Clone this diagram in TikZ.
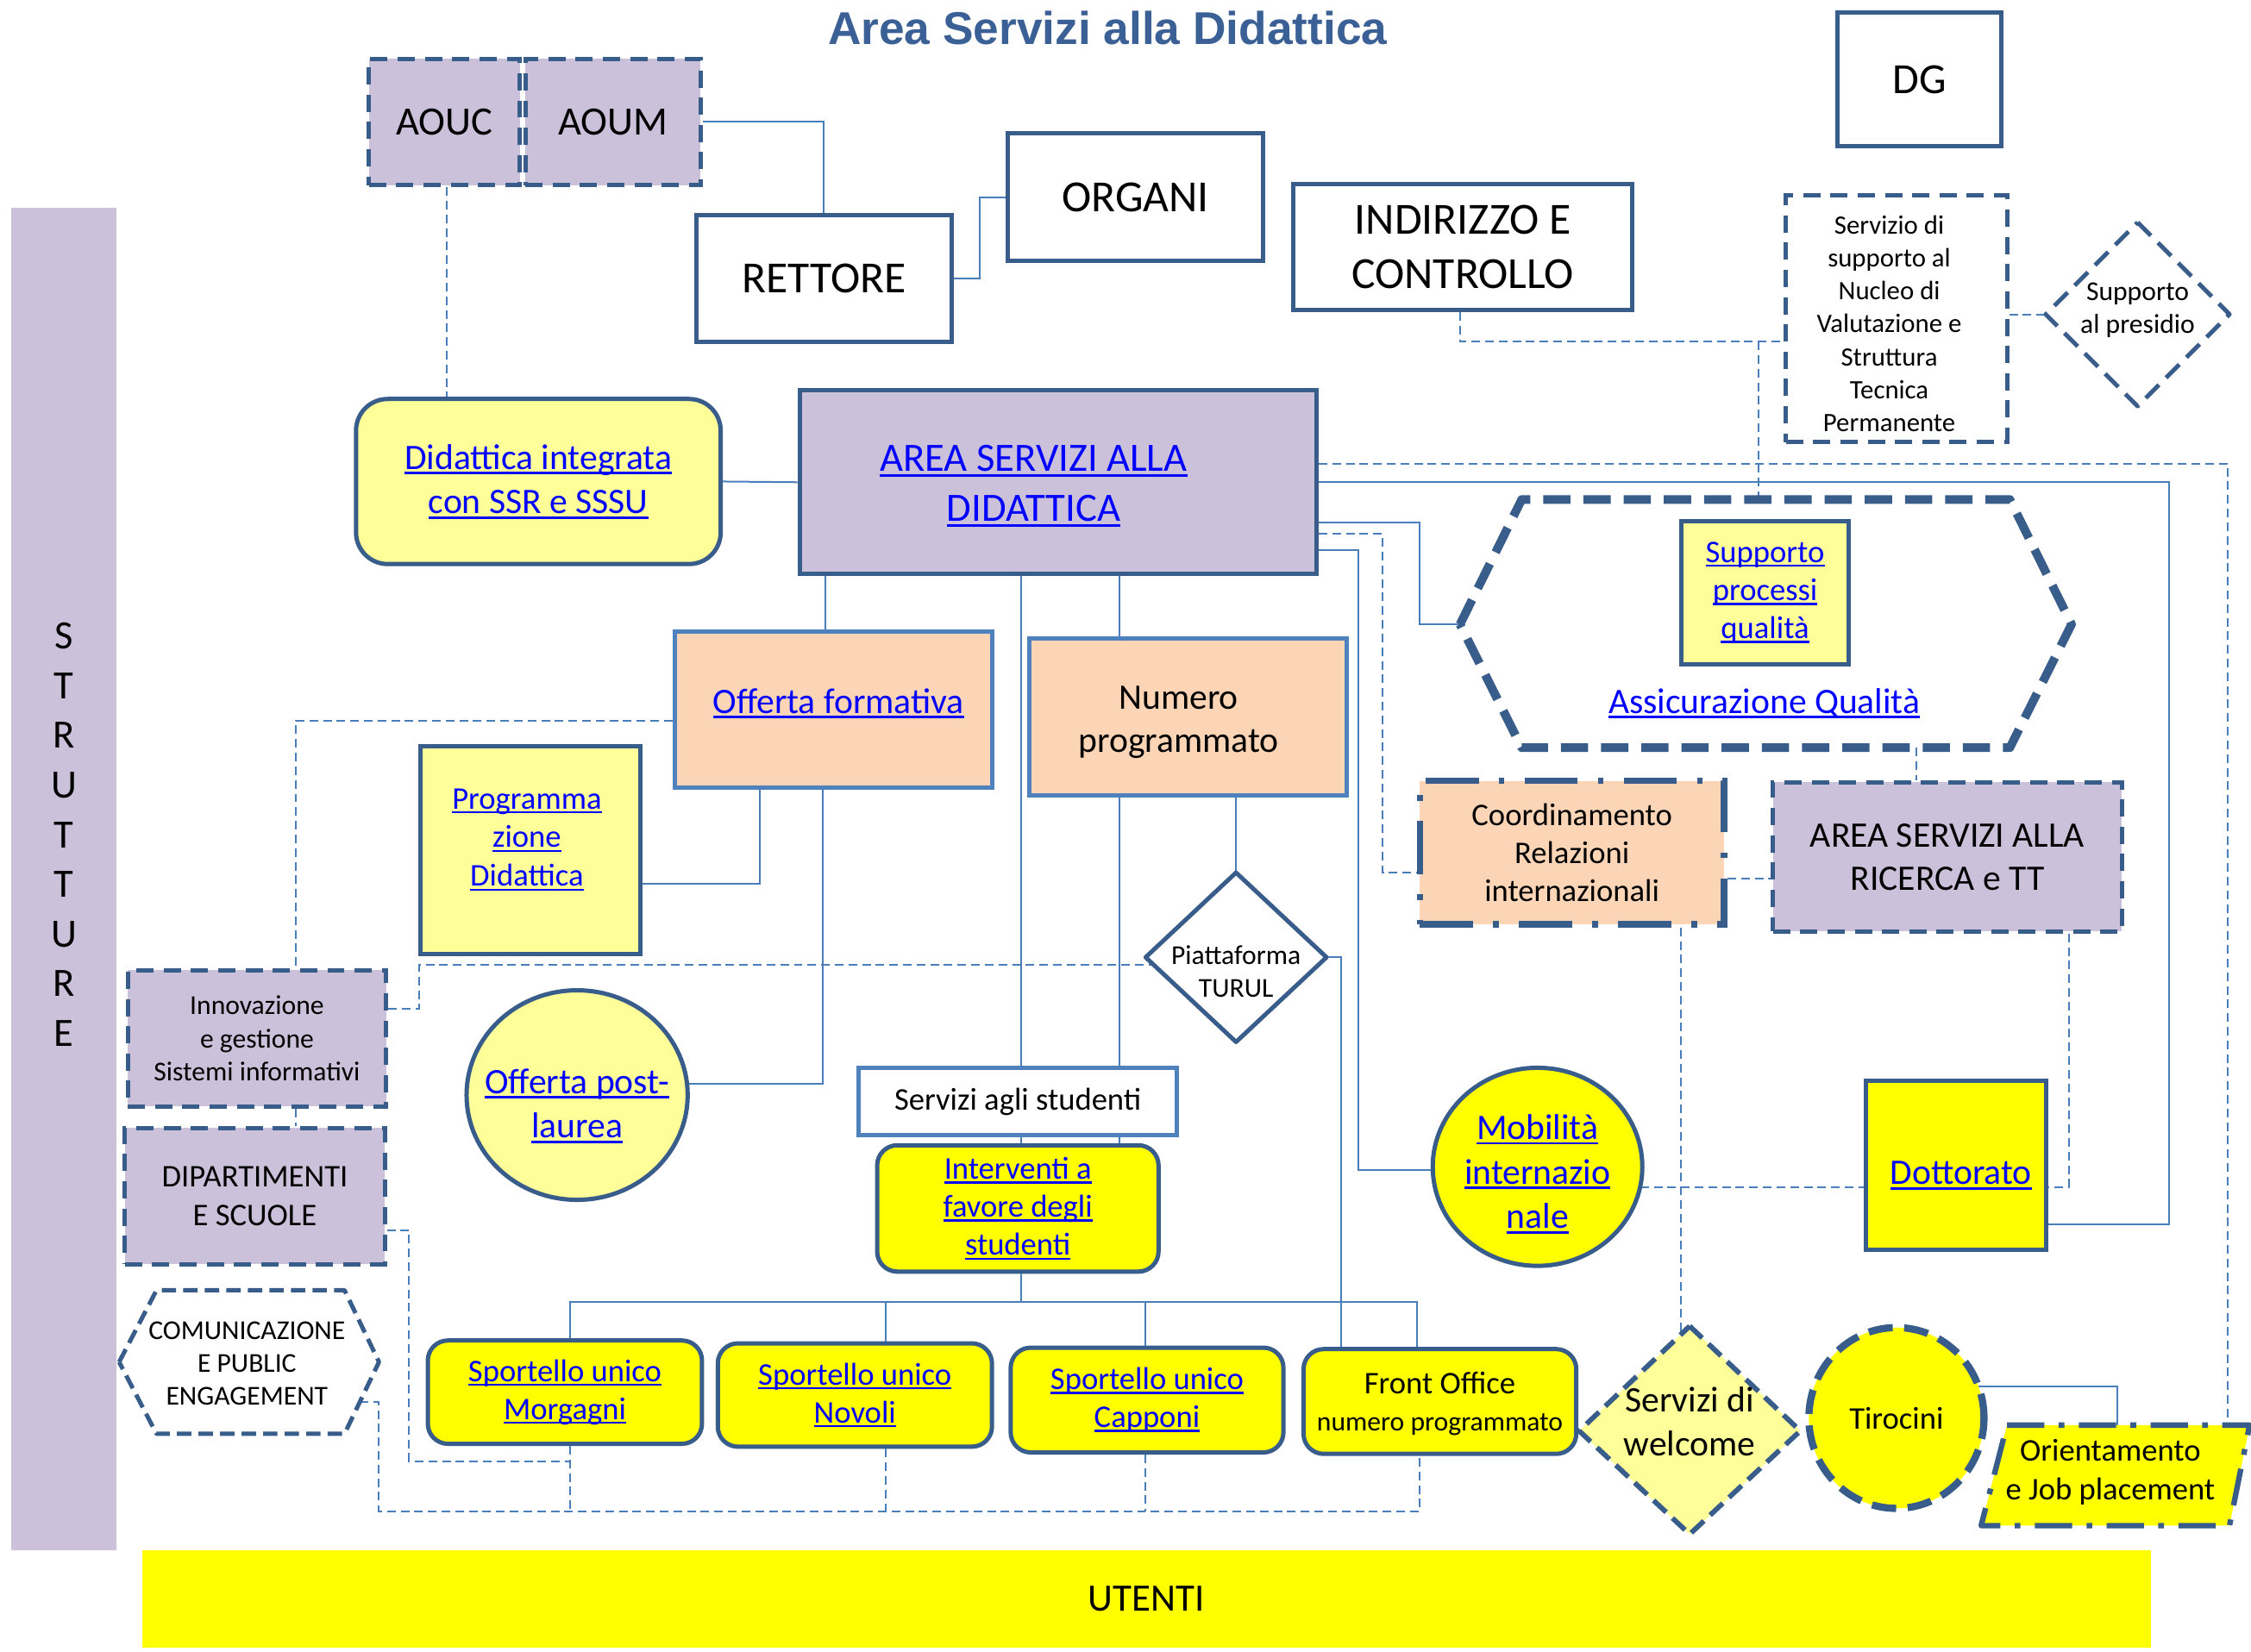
\documentclass[tikz,border=0pt]{standalone}
\usepackage{fontspec}
\setmainfont{Carlito}
\newfontfamily\titlefont{Liberation Sans}
\definecolor{bdark}{HTML}{385D8A}
\definecolor{blight}{HTML}{4F81BD}
\definecolor{conn}{HTML}{4A7EBB}
\definecolor{lav}{HTML}{CCC1DA}
\definecolor{peach}{HTML}{FBD5B5}
\definecolor{lyel}{HTML}{FFFF99}
\definecolor{yel}{HTML}{FFFF00}
\definecolor{lnkblue}{HTML}{0000FF}
\definecolor{titleblue}{HTML}{3A6096}
\newsavebox\lkbox
\newcommand\lk[1]{\sbox\lkbox{#1}\leavevmode\rlap{\rule[-0.14em]{\wd\lkbox}{0.065em}}\usebox\lkbox}
\newcommand\fs[2]{\fontsize{#1}{#2}\selectfont}
\begin{document}
\begin{tikzpicture}[x=1pt,y=-1pt,
  box/.style={draw=bdark, line width=3pt, inner sep=0pt, align=center, anchor=center},
  dbox/.style={dash pattern=on 12pt off 7pt},
  lt/.style={text=lnkblue, align=center, inner sep=0pt},
  tt/.style={align=center, inner sep=0pt},
  ln/.style={draw=conn, line width=1.2pt},
  dln/.style={draw=conn, line width=1.2pt, dash pattern=on 6pt off 3.5pt},
  shp/.style={draw=bdark, line width=3pt, line join=round}
]
\useasboundingbox (0,0) rectangle (1568,1150.5);

% ---------- coordinates on non-rectangular shapes
\coordinate (aqL) at (1017,435);
\coordinate (aqT) at (1225,348);
\coordinate (aqB) at (1335,521);
\coordinate (turN) at (861,608);
\coordinate (turE) at (924,667);
\coordinate (turW2) at (803.3,672);
\coordinate (presW) at (1425,219);
\coordinate (postE) at (478.5,755);
\coordinate (mobW) at (998,815);
\coordinate (mobE) at (1142.5,827);
\coordinate (tiroE) at (1378,966);
\coordinate (orientT1) at (1475,993);
\coordinate (orientT2) at (1552,993);
\coordinate (welT2) at (1171,929.7);
\coordinate (commE) at (250.6,977);

% ---------- rectangular nodes
\node[fill=lav, inner sep=0pt, minimum width=73pt, minimum height=935pt] (strut) at (44.5,612.5) {};
\node[tt, font={\fs{28}{34.6}}] (strutT) at (44.5,581.5) {S\\T\\R\\U\\T\\T\\U\\R\\E};
\node[fill=yel, inner sep=0pt, minimum width=1399pt, minimum height=68pt, font={\fs{27}{32}}] (utenti) at (798.5,1114) {UTENTI};

\node[font={\titlefont\bfseries\fs{32}{38}}, text=titleblue, anchor=base, inner sep=0pt] (title) at (771.5,31) {Area Servizi alla Didattica};

\node[box, fill=lav, dbox, minimum width=105pt, minimum height=88pt, font={\fs{28}{34}}] (aouc) at (309.5,85) {AOUC};
\node[box, fill=lav, dbox, minimum width=122pt, minimum height=88pt, font={\fs{28}{34}}] (aoum) at (427,85) {AOUM};
\node[box, fill=white, minimum width=178pt, minimum height=88pt, font={\fs{31}{38}}] (rett) at (574,194) {RETTORE};
\node[box, fill=white, minimum width=178pt, minimum height=89pt, font={\fs{31}{38}}] (org) at (791,137.5) {ORGANI};
\node[box, fill=white, minimum width=236pt, minimum height=88pt, font={\fs{31}{38}}] (ind) at (1019,172) {INDIRIZZO E\\CONTROLLO};
\node[box, fill=white, minimum width=114pt, minimum height=93pt, font={\fs{30}{36}}] (dg) at (1337,55.5) {DG};
\node[box, fill=white, dbox, minimum width=154pt, minimum height=172pt] (nuc) at (1321,222) {};
\node[tt, font={\fs{18.5}{23}}] (nucT) at (1316,225.5) {Servizio di\\supporto al\\Nucleo di\\Valutazione e\\Struttura\\Tecnica\\Permanente};

\node[box, fill=lyel, rounded corners=22pt, minimum width=254pt, minimum height=115pt, font={\fs{25}{31}}, text=lnkblue] (did) at (375,335.5) {\lk{Didattica integrata}\\\lk{con SSR e SSSU}};
\node[box, fill=lav, minimum width=360pt, minimum height=128pt] (area) at (737,336) {};
\node[box, draw=blight, fill=peach, minimum width=221pt, minimum height=109pt] (off) at (580.5,494.5) {};
\node[lt, font={\fs{25}{31}}] (offT) at (584,490) {\lk{Offerta formativa}};
\node[box, draw=blight, fill=peach, minimum width=221pt, minimum height=109pt] (num) at (827.5,499.5) {};
\node[tt, font={\fs{25}{30}}] (numT) at (821,503) {Numero\\programmato};
\node[box, fill=lyel, minimum width=153pt, minimum height=145pt] (prog) at (369.5,592.5) {};
\node[box, fill=peach, minimum width=212pt, minimum height=100pt, dash pattern=on 37pt off 14pt on 4pt off 14pt, line width=4.5pt, font={\fs{22}{26.5}}] (coord) at (1095,594) {Coordinamento\\Relazioni\\internazionali};
\node[box, fill=lav, dbox, minimum width=243pt, minimum height=104pt, font={\fs{25}{30}}] (ric) at (1356.5,597) {AREA SERVIZI ALLA\\RICERCA e TT};
\node[box, fill=lav, dbox, minimum width=180pt, minimum height=95pt, font={\fs{19}{23}}] (innov) at (179,723.5) {Innovazione\\e gestione\\Sistemi informativi};
\node[box, fill=lav, dbox, minimum width=181pt, minimum height=95pt, font={\fs{22}{27}}] (dip) at (177.5,833.5) {DIPARTIMENTI\\E SCUOLE};
\node[box, draw=blight, fill=white, minimum width=222pt, minimum height=47pt, font={\fs{22}{26}}] (sstud) at (709,767.5) {Servizi agli studenti};
\node[box, fill=yel, rounded corners=14pt, minimum width=196pt, minimum height=88pt, font={\fs{22}{26.5}}, text=lnkblue] (interv) at (709,842) {\lk{Interventi a}\\\lk{favore degli}\\\lk{studenti}};
\node[box, fill=yel, minimum width=125pt, minimum height=118pt] (dott) at (1362.5,812) {};
\node[lt, font={\fs{25}{30}}] (dottT) at (1366,819) {\lk{Dottorato}};
\node[box, fill=yel, rounded corners=14pt, minimum width=191pt, minimum height=72pt, font={\fs{22}{26.5}}, text=lnkblue] (morg) at (393.5,970) {\lk{Sportello unico}\\\lk{Morgagni}};
\node[box, fill=yel, rounded corners=14pt, minimum width=191pt, minimum height=72pt, font={\fs{22}{26.5}}, text=lnkblue] (novo) at (595.5,972) {\lk{Sportello unico}\\\lk{Novoli}};
\node[box, fill=yel, rounded corners=14pt, minimum width=190pt, minimum height=73pt, font={\fs{22}{26.5}}, text=lnkblue] (capp) at (799,975.5) {\lk{Sportello unico}\\\lk{Capponi}};
\node[box, fill=yel, rounded corners=14pt, minimum width=190pt, minimum height=73pt] (front) at (1003,976.5) {};

% ---------- solid connectors
\draw[ln] (aoum.east) -| (rett.north);
\draw[ln] (rett.east) -- ++(18,0) |- (org.west);
\draw[ln] (did.east) -- (area.west);
\draw[ln] (area.south -| 575,0) -- (off.north -| 575,0);
\draw[ln] (area.south -| 711,0) -- (sstud.north -| 711,0);
\draw[ln] (area.south -| 780,0) -- (num.north -| 780,0);
\draw[ln] (num.south -| 780,0) -- (sstud.north -| 780,0);
\draw[ln] (num.south -| 861,0) -- (turN);
\draw[ln] (off.south -| 529,0) |- (prog.east |- 0,616);
\draw[ln] (off.south -| 573,0) |- (postE);
\draw[ln] (turE) -| (front.north -| 934,0);
\draw[ln] (area.east |- 0,364) -- (989,364) |- (aqL);
\draw[ln] (area.east |- 0,336) -- (1511,336) |- (dott.east |- 0,853);
\draw[ln] (area.east |- 0,383) -- (946,383) |- (mobW);
\draw[ln] (sstud.south -| 711,0) -- (interv.north -| 711,0);
\draw[ln] (sstud.south -| 780,0) -- (interv.north -| 780,0);
\draw[ln] (interv.south -| 711,0) -- (711,907);
\draw[ln] (morg.north -| 397,0) |- (987,907) -- (front.north -| 987,0);
\draw[ln] (novo.north -| 617,0) -- (617,907);
\draw[ln] (capp.north -| 798,0) -- (798,907);
\draw[ln] (tiroE) -| (orientT1);

% ---------- dashed connectors
\draw[dln] (aouc.south -| 311,0) -- (did.north -| 311,0);
\draw[dln] (ind.south -| 1017,0) |- (nuc.west |- 0,238);
\draw[dln] (aqT |- 0,238) -- (aqT);
\draw[dln] (nuc.east |- 0,219) -- (presW);
\draw[dln] (area.east |- 0,323) -| (orientT2);
\draw[dln] (area.east |- 0,372) -- (963,372) |- (coord.west |- 0,608);
\draw[dln] (off.west |- 0,502) -| (innov.north -| 206,0);
\draw[dln] (innov.east |- 0,703) -- (292,703) |- (turW2);
\draw[dln] (innov.south -| 206,0) -- (dip.north -| 206,0);
\draw[dln] (aqB) -- (ric.north -| 1335,0);
\draw[dln] (coord.east |- 0,612) -- (ric.west |- 0,612);
\draw[dln] (coord.south -| 1171,0) -- (welT2);
\draw[dln] (ric.south -| 1441,0) |- (dott.east |- 0,827);
\draw[dln] (mobE) -- (dott.west |- 0,827);
\draw[dln] (dip.east |- 0,857) -- (285,857) |- (397,1018);
\draw[dln] (commE) -- (264,977) |- (989,1053) -- (front.south -| 989,0);
\draw[dln] (morg.south -| 397,0) -- (397,1053);
\draw[dln] (novo.south -| 617,0) -- (617,1053);
\draw[dln] (capp.south -| 798,0) -- (798,1053);

% ---------- boxes on top of connectors
\node[box, fill=lav, minimum width=360pt, minimum height=128pt] (area2) at (737,336) {};
\node[lt, font={\fs{28}{35}}] (areaT) at (720,338.5) {\lk{AREA SERVIZI ALLA}\\\lk{DIDATTICA}};
\node[lt, font={\fs{22}{27}}] (progT) at (367,585) {\lk{Programma}\\\lk{zione}\\\lk{Didattica}};
\node[tt, font={\fs{22}{26}}] (frontT) at (1003,978) {Front Office\\{\fs{19}{26}numero programmato}};

% ---------- non-rectangular shapes
\draw[shp, line width=6pt, dash pattern=on 19pt off 9pt, fill=white] (aqL) -- (1060,348) -- (1400,348) -- (1443,435) -- (1400,521) -- (1060,521) -- cycle;
\node[box, fill=lyel, minimum width=117pt, minimum height=100pt, font={\fs{22}{26.5}}, text=lnkblue] (spq) at (1229.5,413) {\lk{Supporto}\\\lk{processi}\\\lk{qualità}};
\node[lt, font={\fs{25}{30}}] (aqT2) at (1229,490) {\lk{Assicurazione Qualità}};

\draw[shp, dash pattern=on 13pt off 7pt, fill=white] (1489,155) -- (1553,219) -- (1489,283) -- (presW) -- cycle;
\node[tt, font={\fs{19}{23}}] (presT) at (1489,216) {Supporto\\al presidio};

\draw[shp, fill=white] (turN) -- (turE) -- (861,726) -- (798,667) -- cycle;
\node[tt, font={\fs{19}{23}}] (turT) at (861,677) {Piattaforma\\TURUL};

\draw[shp, line width=3.5pt, dash pattern=on 12pt off 6pt, fill=lyel] (1177,924) -- (1254,997) -- (1177,1069) -- (1100,997) -- cycle;
\node[tt, font={\fs{25}{31}}] (welT) at (1177,990.5) {Servizi di\\welcome};

\draw[shp, fill=lyel] (402,763) ellipse [x radius=77pt, y radius=73pt];
\node[lt, font={\fs{25}{31}}] (postT) at (402,770.5) {\lk{Offerta post-}\\\lk{laurea}};

\draw[shp, fill=yel] (1071,813) ellipse [x radius=73pt, y radius=69pt];
\node[lt, font={\fs{25}{31}}] (mobT) at (1071,818) {\lk{Mobilità}\\\lk{internazio}\\\lk{nale}};

\draw[shp, line width=5pt, dash pattern=on 17pt off 8pt, fill=yel] (1321,988) ellipse [x radius=61pt, y radius=63pt];
\node[tt, font={\fs{22}{26}}] (tiroT) at (1321,988) {Tirocini};

\draw[shp, line width=3.8pt, dash pattern=on 26pt off 10pt on 4pt off 10pt, fill=yel] (1398,993) -- (1567,993) -- (1553,1063) -- (1380,1063) -- cycle;
\node[tt, font={\fs{22}{27}}] (orientT) at (1470,1025.5) {Orientamento\\e Job placement};

\draw[shp, dash pattern=on 10pt off 5pt, fill=white] (83,949) -- (109,899) -- (240,899) -- (264,949) -- (240,999) -- (109,999) -- cycle;
\node[tt, font={\fs{19}{23}}] (commT) at (172,950) {COMUNICAZIONE\\E PUBLIC\\ENGAGEMENT};
\end{tikzpicture}
\end{document}
